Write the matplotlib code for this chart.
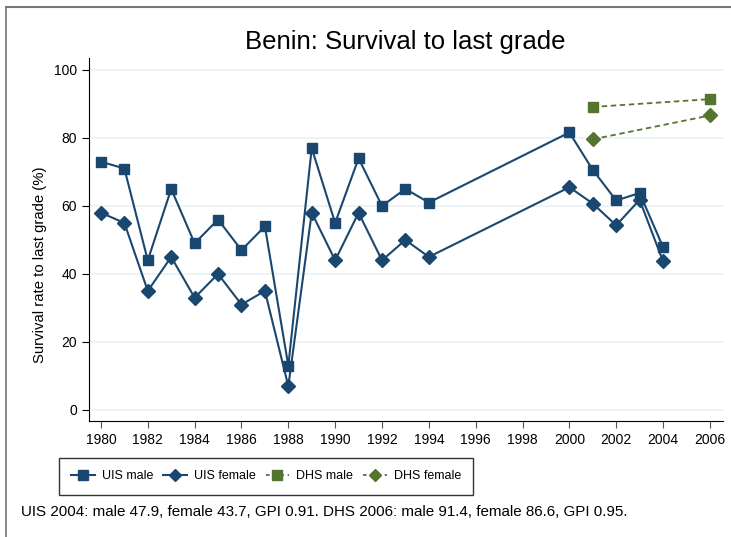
import matplotlib.pyplot as plt
from matplotlib.lines import Line2D

plt.rcParams['font.family'] = ['Liberation Sans', 'DejaVu Sans']

# UIS series
uis_anos = [1980, 1981, 1982, 1983, 1984, 1985, 1986, 1987, 1988, 1989, 1990,
            1991, 1992, 1993, 1994, 2000, 2001, 2002, 2003, 2004]
uis_male = [73, 71, 44, 65, 49, 56, 47, 54, 13, 77, 55,
            74, 60, 65, 61, 81.6, 70.6, 61.6, 63.8, 47.9]
uis_female = [58, 55, 35, 45, 33, 40, 31, 35, 7, 58, 44,
              58, 44, 50, 45, 65.5, 60.7, 54.3, 61.8, 43.7]

# DHS series
dhs_anos = [2001, 2006]
dhs_male = [89.1, 91.4]
dhs_female = [79.6, 86.6]

azul = '#1a476f'
verde = '#55752f'

fig = plt.figure(figsize=(7.31, 5.37), dpi=100)
W, H = 731, 537
ax = fig.add_axes([89 / W, 1 - 421 / H, (723 - 89) / W, (421 - 58) / H])

ax.plot(uis_anos, uis_male, color=azul, lw=1.5, marker='s', ms=7, label='UIS male')
ax.plot(uis_anos, uis_female, color=azul, lw=1.5, marker='D', ms=7, label='UIS female')
ax.plot(dhs_anos, dhs_male, color=verde, lw=1.3, ls=(0, (3, 2)), marker='s', ms=7, label='DHS male')
ax.plot(dhs_anos, dhs_female, color=verde, lw=1.3, ls=(0, (3, 2)), marker='D', ms=7, label='DHS female')

ax.set_xlim(1979.49, 2006.56)
ax.set_ylim(-3.24, 103.5)
ax.set_xticks(range(1980, 2007, 2))
ax.set_yticks(range(0, 101, 20))
ax.yaxis.grid(True, color='#eaf2f3', lw=1.2)
ax.set_axisbelow(True)
for lado in ['top', 'right']:
    ax.spines[lado].set_visible(False)
ax.tick_params(direction='out', length=5, labelsize=10)
ax.tick_params(axis='x', colors='#555555', labelcolor='black')
ax.set_ylabel('Survival rate to last grade (%)', fontsize=10.7)
ax.yaxis.set_label_coords(-0.066, 0.43)

fig.text(405 / W, 1 - 42 / H, 'Benin: Survival to last grade', fontsize=18.5,
         ha='center', va='center')

handles = [Line2D([0], [0], color=azul, lw=1.5, marker='s', ms=6.5),
           Line2D([0], [0], color=azul, lw=1.5, marker='D', ms=6.5),
           Line2D([0], [0], color=verde, lw=1.3, ls=(0, (2, 2)), marker='s', ms=6.5),
           Line2D([0], [0], color=verde, lw=1.3, ls=(0, (2, 2)), marker='D', ms=6.5)]
leg = fig.legend(handles, ['UIS male', 'UIS female', 'DHS male', 'DHS female'],
                 loc='center', bbox_to_anchor=(266 / W, 1 - 476 / H), ncol=4,
                 fontsize=9, frameon=True, fancybox=False,
                 edgecolor='black', handlelength=1.9, columnspacing=0.8,
                 handletextpad=0.55, borderpad=1.0)
leg.get_frame().set_linewidth(1.0)

fig.text(21 / W, 1 - 512 / H,
         'UIS 2004: male 47.9, female 43.7, GPI 0.91. DHS 2006: male 91.4, female 86.6, GPI 0.95.',
         fontsize=10.9, ha='left', va='center')

# moldura externa
fig.add_artist(Line2D([6 / W, 6 / W], [0, 1 - 7 / H], transform=fig.transFigure, color='#777777', lw=1.2))
fig.add_artist(Line2D([6 / W, 1], [1 - 7 / H, 1 - 7 / H], transform=fig.transFigure, color='#777777', lw=1.5))

fig.savefig('out.png', dpi=100)
